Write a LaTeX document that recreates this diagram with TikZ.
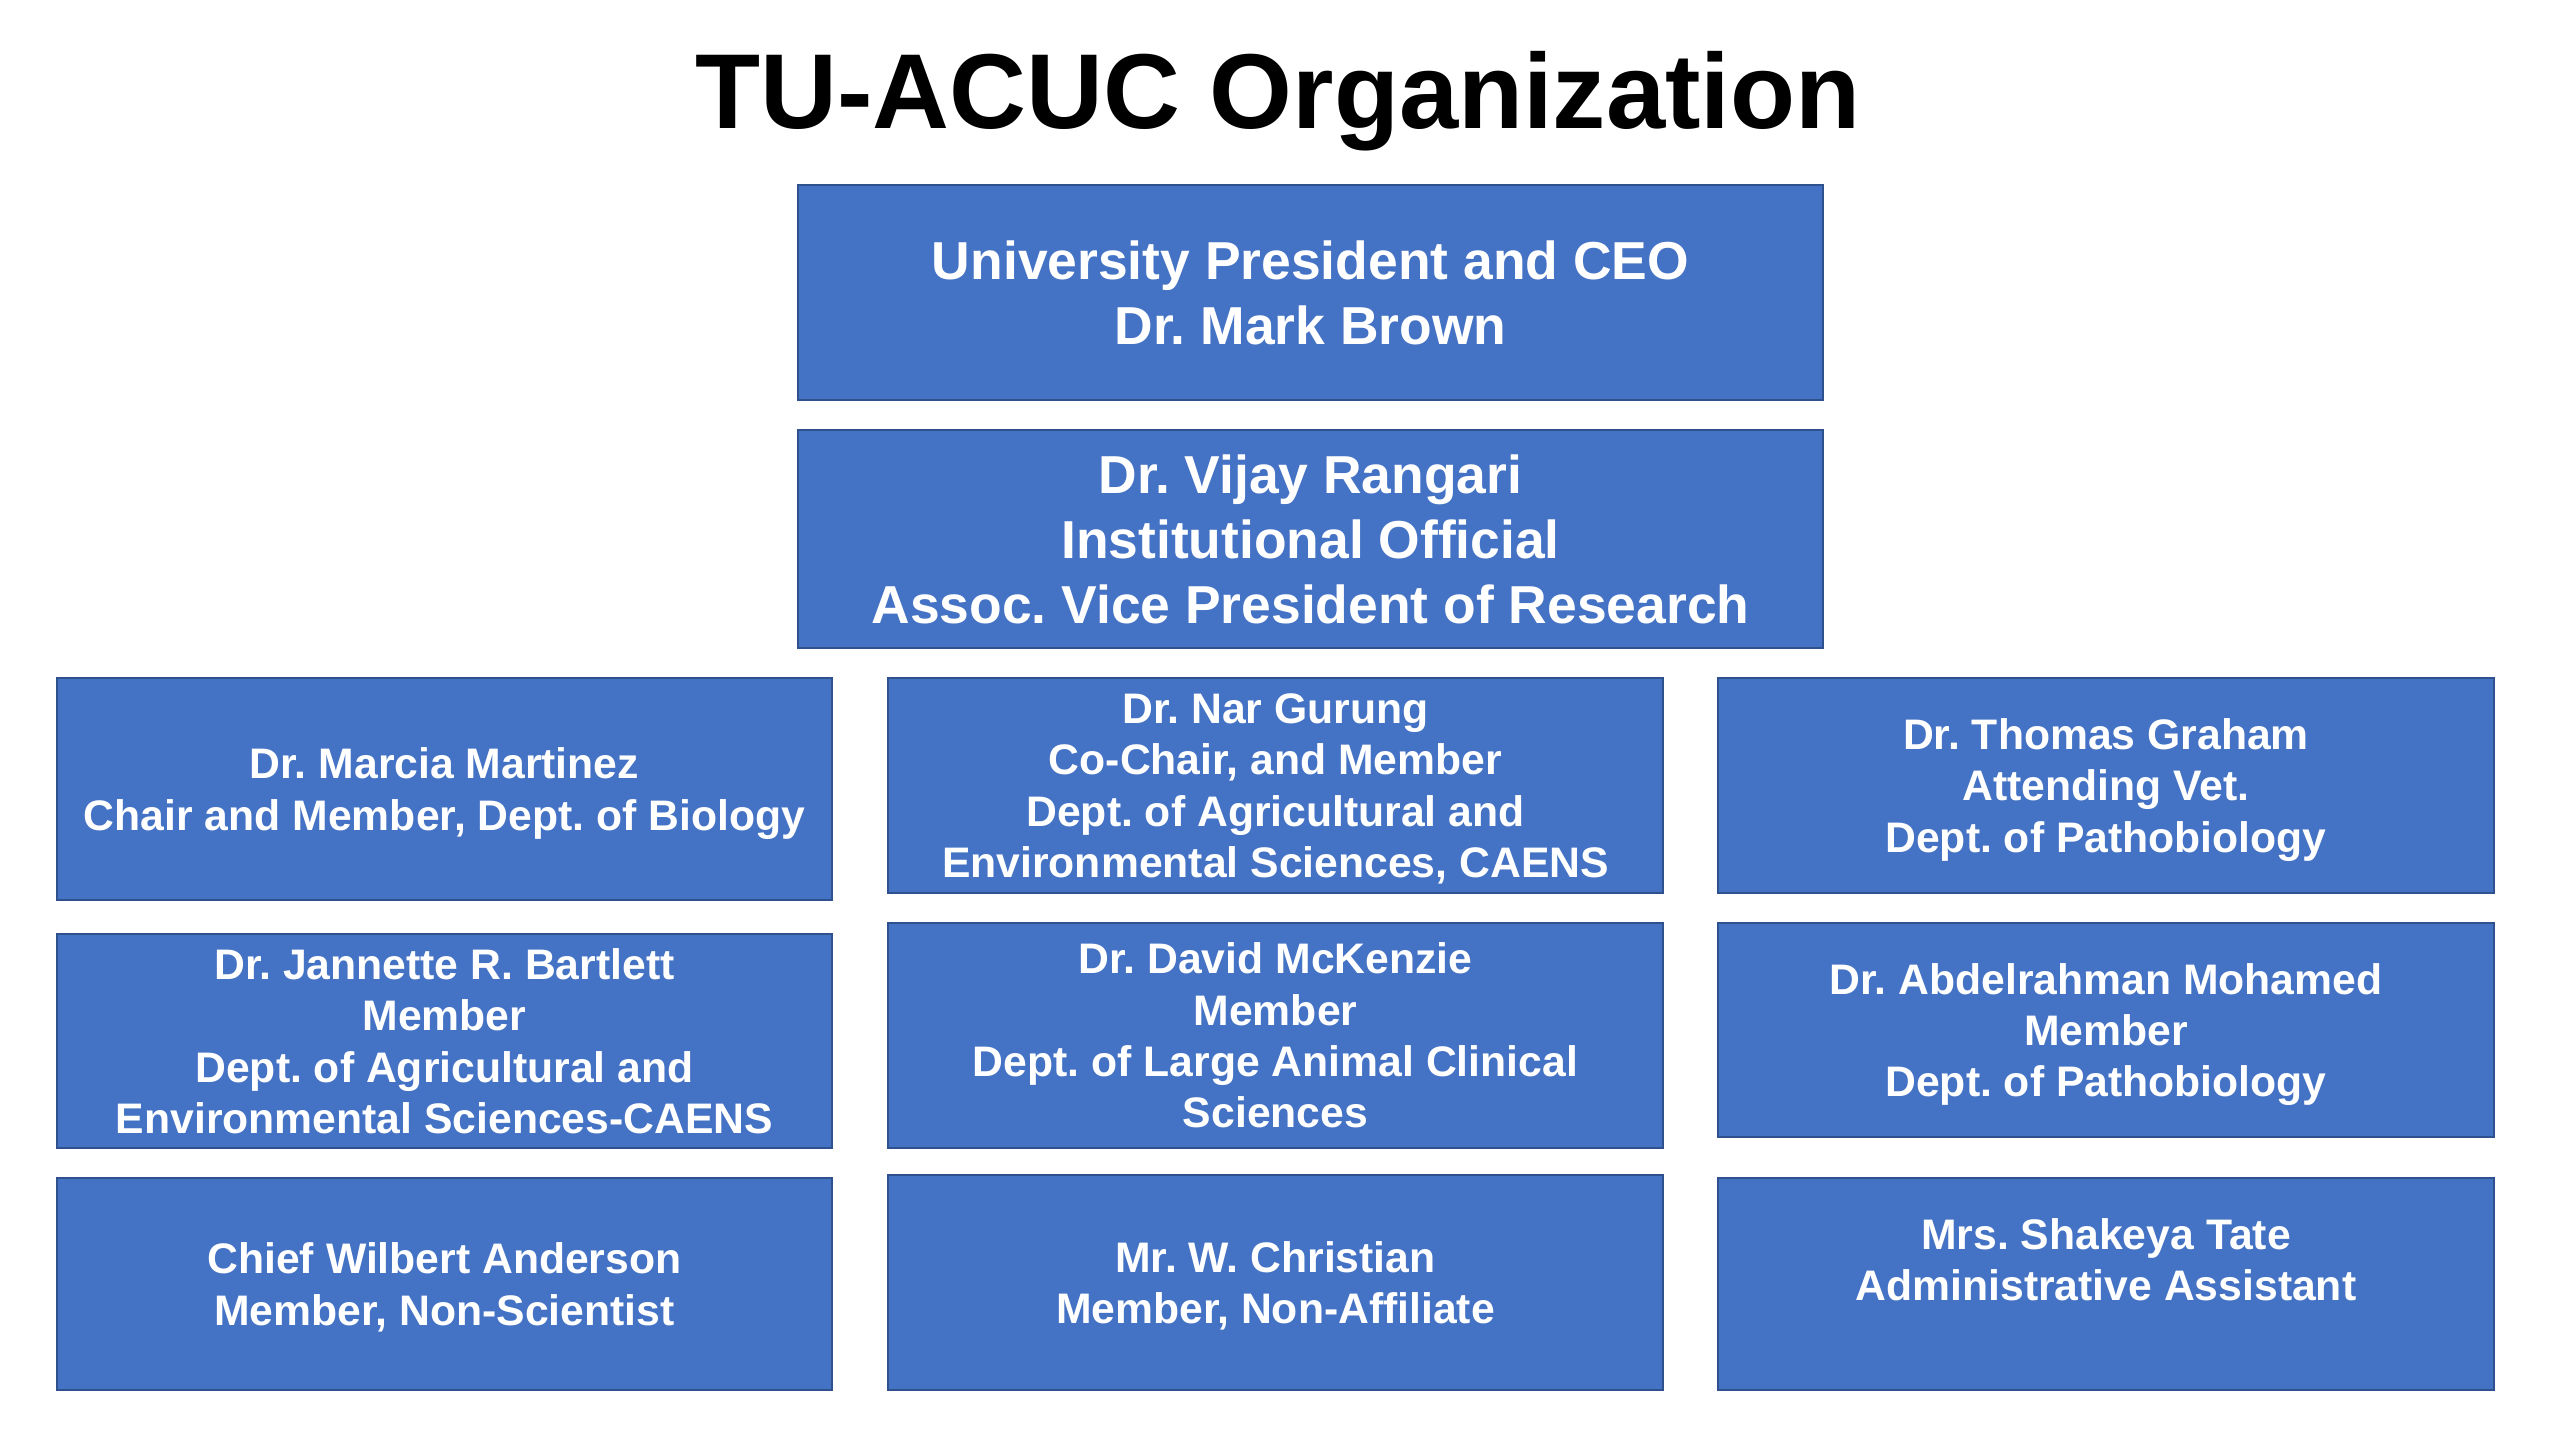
\documentclass[tikz,border=0pt]{standalone}
\usepackage{fontspec}
\setmainfont{Liberation Sans}
\usepackage{xcolor}
\usetikzlibrary{positioning}

\definecolor{boxfill}{HTML}{4472C4}
\definecolor{boxline}{HTML}{2F528F}
\frenchspacing

\begin{document}
\begin{tikzpicture}[
    headbox/.style={rectangle, draw=boxline, line width=0.8pt, fill=boxfill, text=white, align=center, inner sep=0pt, text depth=0pt, minimum width=10.25cm, font=\bfseries\fontsize{15.2}{18.5}\selectfont},
    orgbox/.style={rectangle, draw=boxline, line width=0.8pt, fill=boxfill, text=white, align=center, inner sep=0pt, text depth=0pt, minimum width=7.75cm, font=\bfseries\fontsize{12.15}{14.6}\selectfont}
]
\useasboundingbox (0,0) rectangle (25.6,14.4);

\node[anchor=base, font=\bfseries\fontsize{30.3}{36}\selectfont] (title) at (12.78,13.11) {TU-ACUC Organization};

\node[headbox, minimum height=2.15cm] (president) at (13.105,11.475) {University President and CEO\\Dr. Mark Brown};
\node[headbox, minimum height=2.18cm] (official) at (13.105,9.01) {Dr. Vijay Rangari\\Institutional Official\\Assoc. Vice President of Research};

% left column
\node[orgbox, minimum height=2.22cm] (martinez) at (4.445,6.51) {Dr. Marcia Martinez\\Chair and Member, Dept. of Biology};
\node[orgbox, minimum height=2.14cm] (bartlett) at (4.445,3.99) {Dr. Jannette R. Bartlett\\Member\\Dept. of Agricultural and\\Environmental Sciences-CAENS};
\node[orgbox, minimum height=2.12cm] (anderson) at (4.445,1.56) {Chief Wilbert Anderson\\Member, Non-Scientist};

% middle column
\node[orgbox, minimum height=2.15cm] (gurung) at (12.755,6.545) {Dr. Nar Gurung\\Co-Chair, and Member\\Dept. of Agricultural and\\Environmental Sciences, CAENS};
\node[orgbox, minimum height=2.25cm] (mckenzie) at (12.755,4.045) {Dr. David McKenzie\\Member\\Dept. of Large Animal Clinical\\Sciences};
\node[orgbox, minimum height=2.15cm] (christian) at (12.755,1.575) {Mr. W. Christian\\Member, Non-Affiliate};

% right column
\node[orgbox, minimum width=7.76cm, minimum height=2.15cm] (graham) at (21.06,6.545) {Dr. Thomas Graham\\Attending Vet.\\Dept. of Pathobiology};
\node[orgbox, minimum width=7.76cm, minimum height=2.14cm] (mohamed) at (21.06,4.10) {Dr. Abdelrahman Mohamed\\Member\\Dept. of Pathobiology};
\node[orgbox, minimum width=7.76cm, minimum height=2.12cm, text depth=14pt] (tate) at (21.06,1.56) {Mrs. Shakeya Tate\\Administrative Assistant};

\end{tikzpicture}
\end{document}
